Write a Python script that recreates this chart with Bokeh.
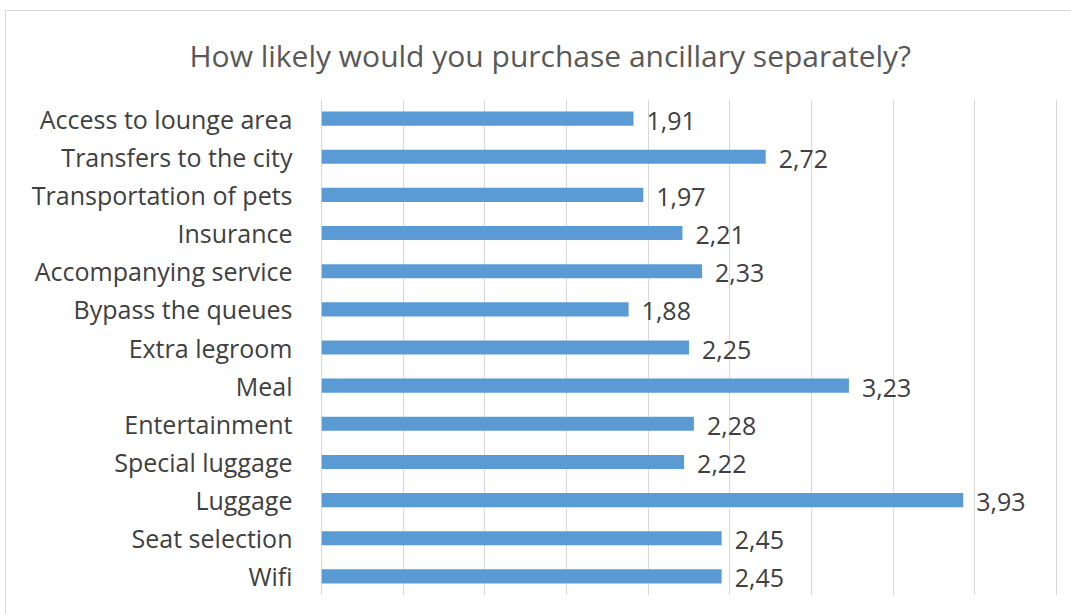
from bokeh.plotting import figure
from bokeh.models import ColumnDataSource, FixedTicker, FactorRange, Range1d
from bokeh.core.properties import value
from bokeh.embed import file_html
from bokeh.resources import INLINE

categories = ["Access to lounge area", "Transfers to the city", "Transportation of pets",
              "Insurance", "Accompanying service", "Bypass the queues", "Extra legroom",
              "Meal", "Entertainment", "Special luggage", "Luggage", "Seat selection", "Wifi"]
values = [1.91, 2.72, 1.97, 2.21, 2.33, 1.88, 2.25, 3.23, 2.28, 2.22, 3.93, 2.45, 2.45]
value_labels = ["1,91", "2,72", "1,97", "2,21", "2,33", "1,88", "2,25", "3,23", "2,28", "2,22", "3,93", "2,45", "2,45"]
grid_ticks = [0, 0.5, 1, 1.5, 2, 2.5, 3, 3.5, 4, 4.5]
title_text = "How likely would you purchase ancillary separately?"

FONT = "Open Sans"
source = ColumnDataSource(dict(cat=categories, val=values, lab=value_labels))

p = figure(width=1066, height=604, output_backend="svg", toolbar_location=None,
           y_range=FactorRange(factors=list(reversed(categories))),
           x_range=Range1d(-0.02, 4.52),
           min_border_left=312, min_border_right=13, min_border_top=87, min_border_bottom=20,
           margin=(10, 0, 0, 5),
           styles={"border-left": "1px solid #d9d9d9", "border-top": "1px solid #d9d9d9"})

p.title.text = title_text
p.title.align = "left"
p.title.offset = -129
p.title.vertical_align = "middle"
p.title.text_font = FONT
p.title.text_font_size = "30px"
p.title.text_font_style = "normal"
p.title.text_color = "#595959"
p.title.standoff = 45

p.hbar(y="cat", right="val", left=0, height=0.37, source=source, color="#5B9BD5", line_color=None)
p.text(x="val", y="cat", text="lab", source=source, x_offset=13, y_offset=2,
       text_baseline="middle", text_align="left",
       text_font=value(FONT), text_font_size="25px", text_color="#404040")

p.xaxis.visible = False
p.xgrid.ticker = FixedTicker(ticks=grid_ticks)
p.xgrid.grid_line_color = "#d9d9d9"
p.ygrid.grid_line_color = None
p.outline_line_color = None

p.yaxis.axis_line_color = None
p.yaxis.major_tick_line_color = None
p.yaxis.minor_tick_line_color = None
p.yaxis.major_tick_out = 0
p.yaxis.major_tick_in = 0
p.yaxis.major_label_standoff = 26
p.yaxis.major_label_text_font = FONT
p.yaxis.major_label_text_font_size = "25px"
p.yaxis.major_label_text_color = "#404040"

open("out.html", "w").write(file_html(p, INLINE))
